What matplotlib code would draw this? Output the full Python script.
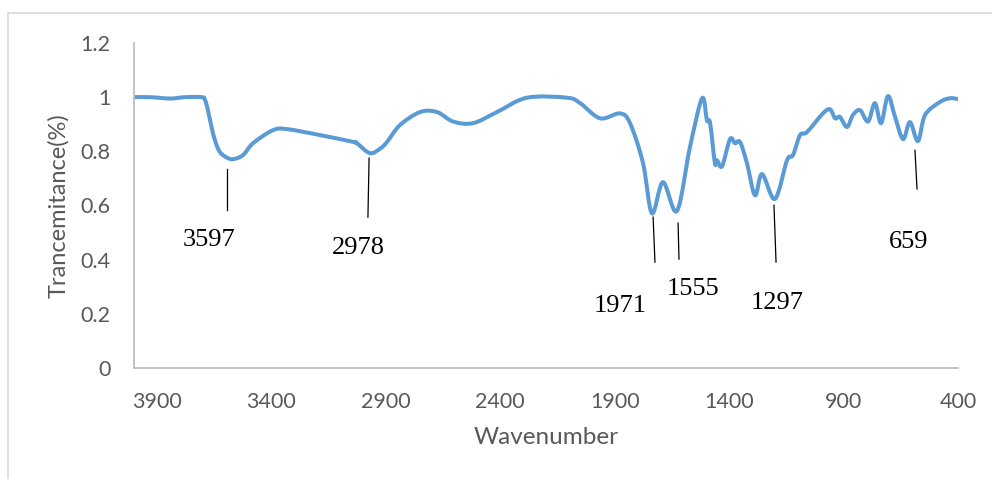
import matplotlib
matplotlib.use("Agg")
import numpy as np
import matplotlib.pyplot as plt
from matplotlib.lines import Line2D
from matplotlib.path import Path
from matplotlib.patches import PathPatch

# ---- data ----
wavenumber = [4000, 3930, 3843, 3777, 3703, 3690, 3677, 3655, 3633, 3611, 3572,
              3524, 3480, 3393, 3332, 3187, 3043, 3026, 2969, 2925, 2895, 2838,
              2750, 2676, 2606, 2519, 2414, 2283, 2108, 2051, 1964, 1877, 1833,
              1776, 1737, 1689, 1628, 1571, 1518, 1497, 1483, 1462, 1453, 1431,
              1396, 1374, 1352, 1322, 1287, 1256, 1200, 1147, 1121, 1090, 1060,
              990, 959, 937, 916, 885, 859, 828, 793, 763, 736, 706, 675, 640,
              610, 575, 544, 479, 435, 400]
transmittance = [1.0, 1.0, 0.995, 1.0, 1.0, 0.99, 0.952, 0.867, 0.81, 0.786, 0.771,
                 0.786, 0.83, 0.878, 0.882, 0.86, 0.835, 0.83, 0.793, 0.81, 0.834, 0.897,
                 0.945, 0.945, 0.91, 0.904, 0.945, 0.998, 0.998, 0.978, 0.922, 0.94, 0.904,
                 0.756, 0.571, 0.686, 0.58, 0.816, 0.996, 0.915, 0.904, 0.756, 0.767, 0.745,
                 0.845, 0.83, 0.834, 0.756, 0.638, 0.716, 0.624, 0.767, 0.786, 0.86, 0.871,
                 0.94, 0.955, 0.922, 0.927, 0.89, 0.934, 0.952, 0.91, 0.978, 0.904, 1.004, 0.927, 0.845,
                 0.908, 0.838, 0.934, 0.982, 0.996, 0.993]

peak_labels = ["3597", "2978", "1971", "1555", "1297", "659"]
# leader lines: (x_top, y_top, x_bottom, y_bottom) and label centres
leader_lines = [(3594, 0.734, 3594, 0.583),
                (2973, 0.775, 2978, 0.557),
                (1732, 0.557, 1724, 0.391),
                (1623, 0.535, 1619, 0.402),
                (1204, 0.601, 1195, 0.391),
                (588, 0.804, 579, 0.661)]
label_pos = [(3672, 0.472), (3021, 0.443), (1877, 0.229),
             (1558, 0.292), (1191, 0.240), (614, 0.465)]

x_ticks = [3900, 3400, 2900, 2400, 1900, 1400, 900, 400]
y_ticks = [0, 0.2, 0.4, 0.6, 0.8, 1.0, 1.2]
y_ticklabels = ["0", "0.2", "0.4", "0.6", "0.8", "1", "1.2"]


def smooth_path(xs, ys):
    """Excel-like smoothed line: Catmull-Rom segments as cubic Bezier curves."""
    P = np.column_stack([xs, ys]).astype(float)
    n = len(P)
    verts = [P[0]]
    codes = [Path.MOVETO]
    for i in range(n - 1):
        p0 = P[i - 1] if i > 0 else P[i]
        p1 = P[i]
        p2 = P[i + 1]
        p3 = P[i + 2] if i + 2 < n else P[i + 1]
        c1 = p1 + (p2 - p0) / 6.0
        c2 = p2 - (p3 - p1) / 6.0
        verts += [c1, c2, p2]
        codes += [Path.CURVE4] * 3
    return Path(verts, codes)


# ---- figure ----
fig = plt.figure(figsize=(9.92, 4.79), dpi=100)
ax = fig.add_axes([134/992, 1-368/479, (958-134)/992, (368-43)/479])

patch = PathPatch(smooth_path(wavenumber, transmittance), facecolor="none",
                  edgecolor="#5B9BD5", lw=2.9, joinstyle="round", capstyle="round")
ax.add_patch(patch)

for (x1, y1, x2, y2) in leader_lines:
    ax.plot([x1, x2], [y1, y2], color="black", lw=0.9)
for txt, (lx, ly) in zip(peak_labels, label_pos):
    ax.text(lx, ly, txt, ha="center", va="center", fontsize=19,
            family="Liberation Serif", color="black")

ax.set_xlim(4000, 400)
ax.set_ylim(0, 1.2)
ax.set_xticks(x_ticks)
ax.set_xticklabels([str(t) for t in x_ticks])
ax.set_yticks(y_ticks)
ax.set_yticklabels(y_ticklabels)
ax.tick_params(length=0, labelsize=15.5, colors="#595959")
ax.tick_params(axis="y", pad=17)
ax.tick_params(axis="x", pad=17)
for lab in ax.get_xticklabels() + ax.get_yticklabels():
    lab.set_family("Lato")

for s in ["top", "right"]:
    ax.spines[s].set_visible(False)
for s in ["left", "bottom"]:
    ax.spines[s].set_color("#BFBFBF")
    ax.spines[s].set_linewidth(1.3)

ax.set_xlabel("Wavenumber", fontsize=17.5, color="#595959", family="Lato", labelpad=11)
ax.set_ylabel("Trancemitance(%)", fontsize=17, color="#595959", family="Lato", labelpad=8)

# outer chart frame (partially visible)
fig.add_artist(Line2D([8/992, 1], [1-13/479, 1-13/479], color="#D9D9D9", lw=1.2,
                      transform=fig.transFigure))
fig.add_artist(Line2D([8/992, 8/992], [0, 1-13/479], color="#D9D9D9", lw=1.2,
                      transform=fig.transFigure))

fig.savefig("out.png", dpi=100)
